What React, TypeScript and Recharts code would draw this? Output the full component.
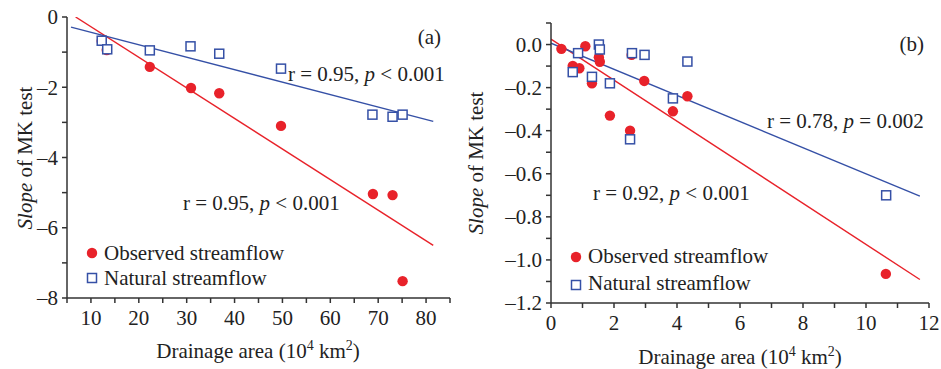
import React from 'react';
import { ComposedChart, Scatter, XAxis, YAxis, ReferenceLine } from 'recharts';

// ---------- Panel (a) data ----------
const observedA = [
  { x: 12.25, y: -0.68 },
  { x: 13.3, y: -0.94 },
  { x: 22.3, y: -1.42 },
  { x: 30.9, y: -2.02 },
  { x: 36.8, y: -2.17 },
  { x: 49.7, y: -3.1 },
  { x: 68.9, y: -5.04 },
  { x: 73.0, y: -5.07 },
  { x: 75.1, y: -7.52 },
];
const naturalA = [
  { x: 12.25, y: -0.675 },
  { x: 13.4, y: -0.92 },
  { x: 22.3, y: -0.95 },
  { x: 30.8, y: -0.835 },
  { x: 36.8, y: -1.045 },
  { x: 49.7, y: -1.47 },
  { x: 68.8, y: -2.78 },
  { x: 73.0, y: -2.84 },
  { x: 75.1, y: -2.78 },
];
const fitObservedA = [{ x: 6.8, y: 0 }, { x: 81.5, y: -6.5 }];
const fitNaturalA = [{ x: 5.84, y: -0.29 }, { x: 81.5, y: -2.97 }];
const xTicksA = [5, 10, 15, 20, 25, 30, 35, 40, 45, 50, 55, 60, 65, 70, 75, 80, 85];
const yTicksA = [-8, -7, -6, -5, -4, -3, -2, -1, 0];

// ---------- Panel (b) data ----------
const observedB = [
  { x: 0.33, y: -0.02 },
  { x: 0.69, y: -0.099 },
  { x: 0.9, y: -0.11 },
  { x: 1.09, y: -0.008 },
  { x: 1.3, y: -0.18 },
  { x: 1.52, y: -0.059 },
  { x: 1.55, y: -0.08 },
  { x: 1.87, y: -0.33 },
  { x: 2.51, y: -0.4 },
  { x: 2.56, y: -0.048 },
  { x: 2.96, y: -0.169 },
  { x: 3.87, y: -0.31 },
  { x: 4.33, y: -0.24 },
  { x: 10.63, y: -1.065 },
];
const naturalB = [
  { x: 0.86, y: -0.04 },
  { x: 0.69, y: -0.128 },
  { x: 1.3, y: -0.15 },
  { x: 1.52, y: 0.0 },
  { x: 1.55, y: -0.023 },
  { x: 1.87, y: -0.18 },
  { x: 2.51, y: -0.44 },
  { x: 2.57, y: -0.04 },
  { x: 2.97, y: -0.048 },
  { x: 3.87, y: -0.25 },
  { x: 4.33, y: -0.079 },
  { x: 10.64, y: -0.7 },
];
const fitObservedB = [{ x: 0, y: 0.025 }, { x: 11.71, y: -1.091 }];
const fitNaturalB = [{ x: 0, y: 0.006 }, { x: 11.71, y: -0.704 }];
const xTicksB = [0, 1, 2, 3, 4, 5, 6, 7, 8, 9, 10, 11, 12];
const yTicksB = [-1.2, -1.1, -1.0, -0.9, -0.8, -0.7, -0.6, -0.5, -0.4, -0.3, -0.2, -0.1, 0.0, 0.1];

const legendLabels = ['Observed streamflow', 'Natural streamflow'];

const RED = '#e8222a';
const BLUE = '#3550a6';
const AXIS = '#333';
const FONT = 'Liberation Serif, Times New Roman, serif';
const FS = 21;

const tickStyle = { fontSize: FS, fill: '#222', fontFamily: FONT };

const fmtA_X = (v: number) => (v % 10 === 0 && v >= 10 && v <= 80 ? String(v) : '');
const fmtA_Y = (v: number) => (v % 2 === 0 ? (v < 0 ? '\u2013' + Math.abs(v) : String(v)) : '');
const fmtB_X = (v: number) => (v % 2 === 0 ? String(v) : '');
const fmtB_Y = (v: number) => {
  const r = Math.round(v * 10);
  if (r % 2 !== 0 || r > 0) return '';
  if (r === 0) return '0.0';
  return '\u2013' + (Math.abs(r) / 10).toFixed(1);
};

const Square = (p: any) => (
  <rect x={p.cx - 4.5} y={p.cy - 4.5} width={9} height={9} fill="#fff" stroke={BLUE} strokeWidth={1.5} />
);
const Dot = (p: any) => <circle cx={p.cx} cy={p.cy} r={5.2} fill={RED} />;

function Panel(props: any) {
  const { width, height, margin, xDomain, yDomain, xTicks, yTicks, fmtX, fmtY, yWidth, xHeight, obs, nat, fitObs, fitNat } = props;
  return (
    <ComposedChart width={width} height={height} margin={margin}>
      <XAxis
        xAxisId="b"
        dataKey="x"
        type="number"
        domain={xDomain}
        ticks={xTicks}
        tickFormatter={fmtX}
        allowDataOverflow
        height={xHeight}
        tick={tickStyle}
        tickSize={5}
        tickMargin={7}
        stroke={AXIS}
        strokeWidth={1.5}
        interval={0}
      />
      <XAxis
        xAxisId="t"
        orientation="top"
        type="number"
        domain={xDomain}
        ticks={xTicks}
        allowDataOverflow
        height={0}
        tick={false}
        tickSize={3}
        stroke={AXIS}
        strokeWidth={1.5}
        interval={0}
      />
      <YAxis
        yAxisId="l"
        dataKey="y"
        type="number"
        domain={yDomain}
        ticks={yTicks}
        tickFormatter={fmtY}
        allowDataOverflow
        width={yWidth}
        tick={tickStyle}
        tickSize={5}
        tickMargin={4}
        stroke={AXIS}
        strokeWidth={1.5}
        interval={0}
      />
      <YAxis
        yAxisId="r"
        orientation="right"
        type="number"
        domain={yDomain}
        ticks={yTicks}
        allowDataOverflow
        width={0}
        tick={false}
        tickSize={3}
        stroke={AXIS}
        strokeWidth={1.5}
        interval={0}
      />
      <ReferenceLine xAxisId="b" yAxisId="l" segment={fitObs} stroke={RED} strokeWidth={1.4} ifOverflow="hidden" />
      <ReferenceLine xAxisId="b" yAxisId="l" segment={fitNat} stroke={BLUE} strokeWidth={1.4} ifOverflow="hidden" />
      <Scatter xAxisId="b" yAxisId="l" data={obs} dataKey="y" shape={Dot} isAnimationActive={false} />
      <Scatter xAxisId="b" yAxisId="l" data={nat} dataKey="y" shape={Square} isAnimationActive={false} />
    </ComposedChart>
  );
}

function Overlay() {
  const t = { fontFamily: FONT, fontSize: FS, fill: '#222' } as any;
  return (
    <svg width={941} height={369} style={{ position: 'absolute', left: 0, top: 0, pointerEvents: 'none' }}>
      {/* Panel a */}
      <text x={441} y={44} textAnchor="end" {...t}>(a)</text>
      <text x={288} y={81} {...t}>r = 0.95, <tspan fontStyle="italic">p</tspan> &lt; 0.001</text>
      <text x={183} y={210} {...t}>r = 0.95, <tspan fontStyle="italic">p</tspan> &lt; 0.001</text>
      <circle cx={92} cy={253} r={5.2} fill={RED} />
      <text x={104} y={260} {...t}>{legendLabels[0]}</text>
      <rect x={87.5} y={273.5} width={9} height={9} fill="#fff" stroke={BLUE} strokeWidth={1.5} />
      <text x={104} y={285} {...t}>{legendLabels[1]}</text>
      <text transform="translate(32,158) rotate(-90)" textAnchor="middle" {...t}>
        <tspan fontStyle="italic">Slope</tspan> of MK test
      </text>
      <text x={258} y={358} textAnchor="middle" {...t}>
        Drainage area (10<tspan dy={-8} fontSize={14}>4</tspan><tspan dy={8}> km</tspan><tspan dy={-8} fontSize={14}>2</tspan><tspan dy={8}>)</tspan>
      </text>

      {/* Panel b */}
      <text x={924} y={51} textAnchor="end" {...t}>(b)</text>
      <text x={767} y={128} {...t}>r = 0.78, <tspan fontStyle="italic">p</tspan> = 0.002</text>
      <text x={593} y={200} {...t}>r = 0.92, <tspan fontStyle="italic">p</tspan> &lt; 0.001</text>
      <circle cx={576} cy={257} r={5.2} fill={RED} />
      <text x={588} y={263} {...t}>{legendLabels[0]}</text>
      <rect x={571.5} y={280.5} width={9} height={9} fill="#fff" stroke={BLUE} strokeWidth={1.5} />
      <text x={588} y={290} {...t}>{legendLabels[1]}</text>
      <text transform="translate(483,163) rotate(-90)" textAnchor="middle" {...t}>
        <tspan fontStyle="italic">Slope</tspan> of MK test
      </text>
      <text x={740} y={364} textAnchor="middle" {...t}>
        Drainage area (10<tspan dy={-8} fontSize={14}>4</tspan><tspan dy={8}> km</tspan><tspan dy={-8} fontSize={14}>2</tspan><tspan dy={8}>)</tspan>
      </text>
    </svg>
  );
}

export default function App() {
  return (
    <div style={{ position: 'absolute', left: 0, top: 0, width: 941, height: 369, background: '#fff', fontFamily: FONT }}>
      <div style={{ position: 'absolute', left: 0, top: 0 }}>
        <Panel
          width={470}
          height={369}
          margin={{ top: 17, right: 20, bottom: 0, left: 0 }}
          xDomain={[5, 85]}
          yDomain={[-8, 0]}
          xTicks={xTicksA}
          yTicks={yTicksA}
          fmtX={fmtA_X}
          fmtY={fmtA_Y}
          yWidth={67}
          xHeight={71}
          obs={observedA}
          nat={naturalA}
          fitObs={fitObservedA}
          fitNat={fitNaturalA}
        />
      </div>
      <div style={{ position: 'absolute', left: 470, top: 0 }}>
        <Panel
          width={471}
          height={369}
          margin={{ top: 23, right: 12, bottom: 0, left: 0 }}
          xDomain={[0, 12]}
          yDomain={[-1.2, 0.1]}
          xTicks={xTicksB}
          yTicks={yTicksB}
          fmtX={fmtB_X}
          fmtY={fmtB_Y}
          yWidth={81}
          xHeight={66}
          obs={observedB}
          nat={naturalB}
          fitObs={fitObservedB}
          fitNat={fitNaturalB}
        />
      </div>
      <Overlay />
    </div>
  );
}
